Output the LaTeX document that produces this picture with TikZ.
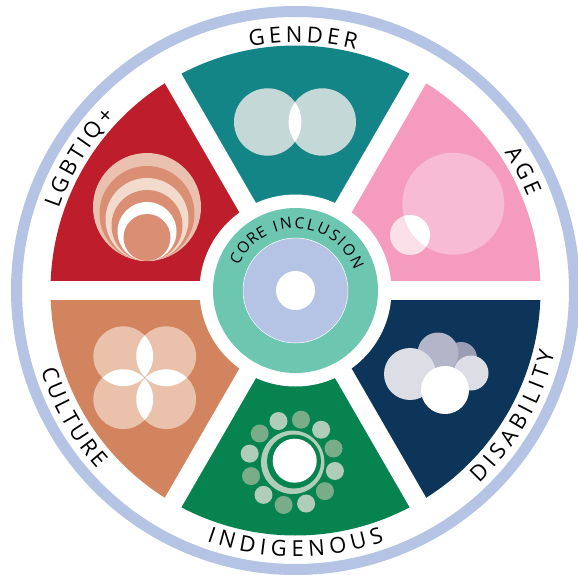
\documentclass[tikz,border=0pt]{standalone}
\usepackage{fontspec}
\setmainfont{Open Sans}
\usetikzlibrary{decorations.text}

\definecolor{ringblue}{HTML}{B5C4E4}
\definecolor{genderteal}{HTML}{148587}
\definecolor{agepink}{HTML}{F59BBD}
\definecolor{disablenavy}{HTML}{0C3559}
\definecolor{indigreen}{HTML}{07834F}
\definecolor{cultureclay}{HTML}{D2845F}
\definecolor{lgbtred}{HTML}{BE1E2B}
\definecolor{coregreen}{HTML}{6CC6B0}
\definecolor{genderpale}{HTML}{C5D8D8}
\definecolor{agepale}{HTML}{F7BBD4}
\definecolor{agelight}{HTML}{FBE0EA}
\definecolor{culturepale}{HTML}{EAC2AB}
\definecolor{lgbtpale}{HTML}{EAC0AE}
\definecolor{lgbtmid}{HTML}{DA8F75}
\definecolor{lgbtlight}{HTML}{F2DACC}
\definecolor{cloudpale}{HTML}{DDDDE6}
\definecolor{cloudmid}{HTML}{B3B6C8}
\definecolor{clouddark}{HTML}{9A9DB4}
\definecolor{dotlight}{HTML}{B0CDB9}
\definecolor{dotdark}{HTML}{79AD8A}

\newcommand{\ringlabel}[5]{%
  \path[decorate,decoration={text along path,text align={fit to path},
    text={|\fontsize{#5}{#5}\selectfont|#1}}] (#2:#4) arc (#2:#3:#4);}

\tikzset{gapline/.style={white,line width=19pt}}

\begin{document}
\begin{tikzpicture}[x=1pt,y=1pt]
  \useasboundingbox (0,0) rectangle (578,-575);
  \fill[white] (0,0) rectangle (578,-575);
  \begin{scope}[shift={(295.5,-290.5)}]
    \draw[ringblue,line width=11pt] (0,0) circle (279);
    \foreach \a/\c in {60/genderteal,0/agepink,-60/disablenavy,
                       -120/indigreen,180/cultureclay,120/lgbtred}
      \fill[\c] (0,0) -- (\a:245) arc (\a:\a+60:245) -- cycle;
    \foreach \a in {0,60,120}
      \draw[gapline] (\a:262) -- (\a+180:262);
    \fill[white] (0,0) circle (96);
    \fill[coregreen] (0,0) circle (82.5);
    \filldraw[fill=ringblue,draw=white,line width=.5pt] (0,0) circle (52.5);
    \fill[white] (0,0) circle (19.5);
    \ringlabel{GENDER}{100.6}{76}{248.5}{22}
    \ringlabel{AGE}{33.5}{22}{250.5}{22}
    \ringlabel{DISABILITY}{-46.5}{-13.5}{266.5}{22}
    \ringlabel{INDIGENOUS}{250.5}{289.5}{266}{22}
    \ringlabel{CULTURE}{197.5}{222}{267}{22}
    \ringlabel{LGBTIQ+}{161}{136}{250.5}{22}
    \ringlabel{CORE}{156}{116.5}{62}{15.5}
    \ringlabel{INCLUSION}{109.5}{19}{62}{15.5}
  \end{scope}
  \begin{scope}[y=-1pt]
    \fill[genderpale] (267.7,122) circle (33.7) (322.3,122) circle (33.7);
    \begin{scope}
      \clip (267.7,122) circle (33.7);
      \fill[white] (322.3,122) circle (33.7);
    \end{scope}
    \fill[agepale] (453.3,203.7) circle (51);
    \fill[agelight] (410,235) circle (20);
    \begin{scope}
      \clip (453.3,203.7) circle (51);
      \fill[white] (410,235) circle (20);
    \end{scope}
    \fill[clouddark] (461,358) circle (16);
    \fill[cloudmid] (438,353) circle (20.5);
    \fill[cloudpale] (410,374) circle (26) (471,373) circle (17.5);
    \fill[white] (445,390) circle (24);
    \fill[dotlight] (292.7,462.3) circle (31.7);
    \fill[indigreen] (294,461.5) circle (27);
    \fill[white] (294.7,460.7) circle (22);
    \foreach \n/\c in {0/dotlight,1/dotdark,2/dotlight,3/dotdark,4/dotlight,5/dotdark,
                       6/dotlight,7/dotdark,8/dotlight,9/dotdark,10/dotlight,11/dotdark}
      \fill[\c] (292.3,462.3) ++(-108.5-30*\n:43.5) circle (9);
    \foreach \x/\y in {123.25/356.25,166.15/356.25,123.25/399.15,166.15/399.15}
      \fill[culturepale] (\x,\y) circle (29.9);
    \foreach \xa/\ya/\xb/\yb in {123.25/356.25/166.15/356.25,123.25/399.15/166.15/399.15,
                                 123.25/356.25/123.25/399.15,166.15/356.25/166.15/399.15}{
      \begin{scope}
        \clip (\xa,\ya) circle (29.9);
        \fill[white] (\xb,\yb) circle (29.9);
      \end{scope}
    }
    \foreach \r/\c in {54/lgbtpale,47.5/lgbtmid,41.5/lgbtlight,35.5/lgbtmid,29.5/white,23.5/lgbtmid}
      \fill[\c] (147,261-\r) circle (\r);
  \end{scope}
\end{tikzpicture}
\end{document}
